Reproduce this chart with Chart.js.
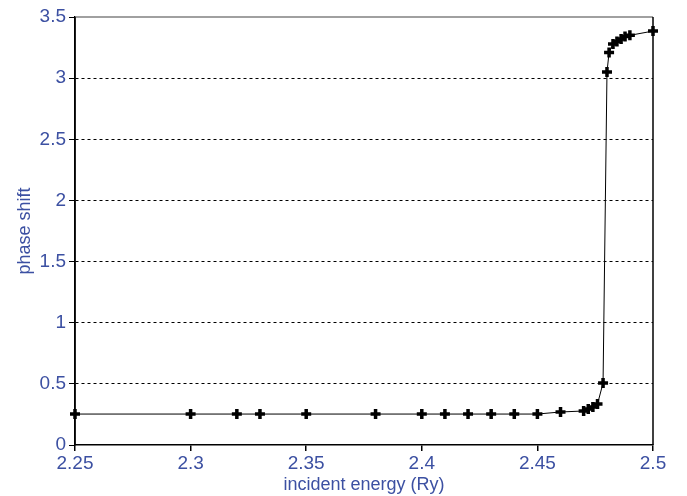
<!DOCTYPE html>
<html>
<head>
<meta charset="utf-8">
<script src="https://cdn.jsdelivr.net/npm/chart.js@4.4.0/dist/chart.umd.min.js"></script>
<style>
html,body{margin:0;padding:0;background:#fff;}
#wrap{width:687px;height:496px;position:relative;}
</style>
</head>
<body>
<div id="wrap"><canvas id="c" width="687" height="496"></canvas></div>
<script>
const energy = [2.25, 2.30, 2.32, 2.33, 2.35, 2.38, 2.40, 2.41, 2.42, 2.43, 2.44, 2.45, 2.46, 2.47, 2.472, 2.474, 2.476, 2.4784, 2.4801, 2.481, 2.4827, 2.4844, 2.4862, 2.4879, 2.490, 2.50];
const phase  = [0.253, 0.253, 0.253, 0.253, 0.253, 0.253, 0.253, 0.253, 0.253, 0.253, 0.253, 0.253, 0.27, 0.278, 0.294, 0.31, 0.335, 0.507, 3.05, 3.21, 3.28, 3.30, 3.32, 3.34, 3.35, 3.385];
const xTicks = [2.25, 2.3, 2.35, 2.4, 2.45, 2.5];
const xTickLabels = ["2.25", "2.3", "2.35", "2.4", "2.45", "2.5"];
const yTicks = [0, 0.5, 1, 1.5, 2, 2.5, 3, 3.5];
const yTickLabels = ["0", "0.5", "1", "1.5", "2", "2.5", "3", "3.5"];

const blue = '#3c50a2';
const framePlugin = {
  id: 'frame',
  beforeDatasetsDraw(chart) {
    const a = chart.chartArea, ctx = chart.ctx;
    ctx.save();
    ctx.setLineDash([]);
    ctx.lineWidth = 1.5;
    ctx.strokeStyle = '#808080';
    ctx.beginPath(); ctx.moveTo(a.left, a.top); ctx.lineTo(a.right, a.top); ctx.stroke();
    ctx.strokeStyle = '#000';
    ctx.beginPath(); ctx.moveTo(a.right, a.top); ctx.lineTo(a.right, a.bottom); ctx.stroke();
    ctx.beginPath(); ctx.moveTo(a.left, a.top); ctx.lineTo(a.left, a.bottom); ctx.stroke();
    ctx.restore();
  }
};

new Chart(document.getElementById('c'), {
  type: 'line',
  data: {
    datasets: [{
      data: energy.map((e, i) => ({x: e, y: phase[i]})),
      borderColor: '#000',
      borderWidth: 1,
      pointStyle: 'cross',
      pointRadius: 5,
      pointBorderWidth: 3.5,
      pointBorderColor: '#000',
      pointBackgroundColor: '#000',
      tension: 0,
      fill: false,
      clip: false
    }]
  },
  plugins: [framePlugin],
  options: {
    responsive: false,
    animation: false,
    layout: {padding: {left: 0, right: 34, top: 17, bottom: 0}},
    plugins: {legend: {display: false}, tooltip: {enabled: false}},
    scales: {
      x: {
        type: 'linear',
        min: 2.25, max: 2.5,
        afterBuildTicks: s => { s.ticks = xTicks.map(v => ({value: v})); },
        afterFit: s => { s.height = 51; },
        ticks: {
          color: blue,
          font: {family: 'Liberation Sans, Arial, sans-serif', size: 19},
          padding: 1,
          maxRotation: 0,
          callback: (v) => { const i = xTicks.indexOf(v); return i >= 0 ? xTickLabels[i] : ''; }
        },
        grid: {display: true, drawOnChartArea: false, drawTicks: true, tickLength: 6, color: '#000', lineWidth: 1.5},
        border: {display: true, color: '#000', width: 1.5},
        title: {display: true, text: 'incident energy (Ry)', color: blue,
          font: {family: 'Liberation Sans, Arial, sans-serif', size: 18}, padding: {top: -3, bottom: 0}}
      },
      y: {
        type: 'linear',
        min: 0, max: 3.5,
        afterBuildTicks: s => { s.ticks = yTicks.map(v => ({value: v})); },
        afterFit: s => { s.width = 75; },
        ticks: {
          color: blue,
          font: {family: 'Liberation Sans, Arial, sans-serif', size: 19},
          padding: 3,
          callback: (v) => { const i = yTicks.indexOf(v); return i >= 0 ? yTickLabels[i] : ''; }
        },
        grid: {
          display: true,
          drawTicks: true,
          tickLength: 6,
          tickColor: '#000',
          tickBorderDash: [],
          color: (ctx) => (ctx.tick && (ctx.tick.value === 0 || ctx.tick.value === 3.5)) ? 'rgba(0,0,0,0)' : '#000',
          lineWidth: 1
        },
        border: {display: true, color: '#000', width: 1.5, dash: [3, 3]},
        title: {display: true, text: 'phase shift', color: blue,
          font: {family: 'Liberation Sans, Arial, sans-serif', size: 18}, padding: {top: 14, bottom: 4}}
      }
    }
  }
});
</script>
</body>
</html>
